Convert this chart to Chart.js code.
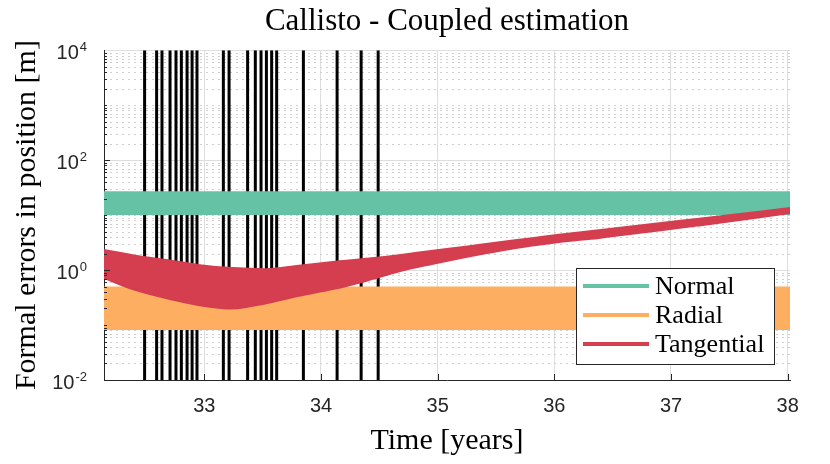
<!DOCTYPE html>
<html>
<head>
<meta charset="utf-8">
<script src="https://cdn.jsdelivr.net/npm/chart.js@4.4.1/dist/chart.umd.min.js"></script>
<style>
  html, body { margin: 0; padding: 0; background: #fff; }
  #wrap { width: 830px; height: 464px; }
</style>
</head>
<body>
<div id="wrap"><canvas id="grafico"></canvas></div>
<script>
// Valores
const seriesNames = ['Normal', 'Radial', 'Tangential'];

const flybyTimes = [32.488, 32.591, 32.637, 32.706, 32.757, 32.803, 32.852, 32.895, 32.937,
  33.163, 33.212, 33.371, 33.437, 33.486, 33.532, 33.577, 33.620, 33.849, 34.138, 34.344, 34.490];

const normalTime = [32.14, 38.02];
const normalUpper = [26, 26];
const normalLower = [10.5, 10.5];

const radialTime = [32.14, 38.02];
const radialUpper = [0.48, 0.48];
const radialLower = [0.085, 0.085];

const tangentialTime = [32.14, 32.385, 32.67, 32.96, 33.24, 33.53, 33.81, 34.10, 34.39, 34.67,
  34.96, 35.24, 35.53, 35.81, 36.04, 36.38, 37.24, 38.02];
const tangentialUpper = [2.31, 1.87, 1.52, 1.23, 1.09, 1.04, 1.2, 1.4, 1.6, 1.87,
  2.25, 2.65, 3.2, 3.8, 4.4, 5.3, 8.6, 13.4];
const tangentialLower = [0.72, 0.45, 0.31, 0.23, 0.2, 0.25, 0.34, 0.45, 0.64, 0.95,
  1.3, 1.72, 2.25, 2.8, 3.25, 3.85, 6.5, 10.9];

const xTickValues = [33, 34, 35, 36, 37, 38];
const yTickValues = [1e-2, 1e0, 1e2, 1e4];
const yTickExponents = ['-2', '0', '2', '4'];

const cores = ['#66c2a5', '#fdae61', '#d53e4f'];
const serif = 'Liberation Serif';
const sans = 'Liberation Sans';

function pontos(xs, ys) {
  return xs.map((x, i) => ({ x: x, y: ys[i] }));
}

function faixa(nome, xs, alto, baixo, cor, ordem) {
  return [
    { label: nome, data: pontos(xs, alto), borderColor: cor, backgroundColor: cor,
      borderWidth: 2, pointRadius: 0, fill: '+1', order: ordem, cubicInterpolationMode: 'monotone' },
    { label: nome + ' (min)', data: pontos(xs, baixo), borderColor: cor, backgroundColor: cor,
      borderWidth: 2, pointRadius: 0, fill: false, order: ordem, cubicInterpolationMode: 'monotone' }
  ];
}

// linhas verticais dos sobrevoos, num único dataset separado por nulls
const flybyData = [];
flybyTimes.forEach(t => {
  flybyData.push({ x: t, y: yTickValues[0] });
  flybyData.push({ x: t, y: yTickValues[yTickValues.length - 1] });
  flybyData.push({ x: t, y: null });
});

const datasets = [
  ...faixa(seriesNames[0], normalTime, normalUpper, normalLower, cores[0], 3),
  ...faixa(seriesNames[1], radialTime, radialUpper, radialLower, cores[1], 2),
  ...faixa(seriesNames[2], tangentialTime, tangentialUpper, tangentialLower, cores[2], 1),
  { label: 'flybys', data: flybyData, borderColor: '#000', borderWidth: 3, pointRadius: 0,
    fill: false, spanGaps: false, order: 4 }
];

// grade menor pontilhada, marcas internas, rótulos 10^n e legenda
const extras = {
  id: 'extras',
  beforeDatasetsDraw(chart) {
    const { ctx, chartArea: a } = chart;
    const y = chart.scales.y;
    ctx.save();
    ctx.strokeStyle = '#cfcfcf';
    ctx.lineWidth = 1;
    ctx.setLineDash([2, 4]);
    for (let e = -2; e < 4; e++) {
      for (let m = 1; m <= 9; m++) {
        if (m === 1 && e % 2 === 0) continue;
        const py = Math.round(y.getPixelForValue(m * Math.pow(10, e))) + 0.5;
        ctx.beginPath();
        ctx.moveTo(a.left, py);
        ctx.lineTo(a.right, py);
        ctx.stroke();
      }
    }
    ctx.restore();
  },
  afterDatasetsDraw(chart) {
    const { ctx, chartArea: a } = chart;
    const x = chart.scales.x;
    const y = chart.scales.y;
    ctx.save();
    ctx.strokeStyle = '#262626';
    ctx.lineWidth = 1;
    for (let e = -2; e < 4; e++) {
      for (let m = 1; m <= 9; m++) {
        const py = Math.round(y.getPixelForValue(m * Math.pow(10, e))) + 0.5;
        const len = (m === 1 && e % 2 === 0) ? 6 : 3;
        ctx.beginPath();
        ctx.moveTo(a.left, py);
        ctx.lineTo(a.left + len, py);
        ctx.stroke();
      }
    }
    xTickValues.forEach(v => {
      const px = Math.round(x.getPixelForValue(v)) + 0.5;
      ctx.beginPath();
      ctx.moveTo(px, a.bottom);
      ctx.lineTo(px, a.bottom - 6);
      ctx.stroke();
    });

    // legenda
    const bx = 576, by = 268, bw = 198, bh = 96;
    ctx.fillStyle = '#fff';
    ctx.fillRect(bx, by, bw, bh);
    ctx.strokeRect(bx + 0.5, by + 0.5, bw, bh);
    ctx.font = '26px "' + serif + '"';
    ctx.textBaseline = 'middle';
    ctx.textAlign = 'left';
    seriesNames.forEach((nome, i) => {
      const ly = by + 18 + i * 29;
      ctx.strokeStyle = cores[i];
      ctx.lineWidth = 4;
      ctx.beginPath();
      ctx.moveTo(583, ly);
      ctx.lineTo(649, ly);
      ctx.stroke();
      ctx.fillStyle = '#000';
      ctx.fillText(nome, 655, ly + 1);
    });
    ctx.restore();
  },
  afterDraw(chart) {
    const { ctx, chartArea: a } = chart;
    const y = chart.scales.y;
    ctx.save();
    ctx.fillStyle = '#262626';
    ctx.textBaseline = 'middle';
    ctx.textAlign = 'right';
    yTickValues.forEach((v, i) => {
      const py = y.getPixelForValue(v);
      const right = a.left - 17;
      ctx.font = '13px "' + sans + '"';
      const w = ctx.measureText(yTickExponents[i]).width;
      ctx.fillText(yTickExponents[i], right, py - 3);
      ctx.font = '20px "' + sans + '"';
      ctx.fillText('10', right - w - 1, py + 3);
    });
    ctx.restore();
  }
};

const ctx = document.getElementById('grafico').getContext('2d');
new Chart(ctx, {
  type: 'line',
  data: { datasets: datasets },
  plugins: [extras],
  options: {
    responsive: true,
    maintainAspectRatio: false,
    animation: false,
    layout: { padding: { left: 0, right: 40, top: 0, bottom: 0 } },
    plugins: {
      legend: { display: false },
      tooltip: { enabled: false },
      title: {
        display: true,
        text: 'Callisto - Coupled estimation',
        fullSize: false,
        color: '#000',
        font: { family: serif, size: 31, weight: 'normal' },
        padding: { top: 3, bottom: 10 }
      }
    },
    scales: {
      x: {
        type: 'linear',
        min: 32.14,
        max: 38.02,
        afterBuildTicks: (scale) => { scale.ticks = xTickValues.map(v => ({ value: v })); },
        afterFit: (scale) => { scale.height = 84; },
        ticks: {
          color: '#262626',
          padding: 14,
          maxRotation: 0,
          font: { family: sans, size: 20 },
          callback: (v) => v
        },
        grid: { color: '#dedede', drawTicks: false },
        border: { color: '#262626', width: 1 },
        title: {
          display: true,
          text: 'Time [years]',
          color: '#000',
          font: { family: serif, size: 30 },
          padding: { top: 0, bottom: 5 }
        }
      },
      y: {
        type: 'logarithmic',
        min: 1e-2,
        max: 1e4,
        afterBuildTicks: (scale) => { scale.ticks = yTickValues.map(v => ({ value: v })); },
        afterFit: (scale) => { scale.width = 104; },
        ticks: { display: false },
        grid: { color: '#dedede', drawTicks: false },
        border: { color: '#262626', width: 1 },
        title: {
          display: true,
          text: 'Formal errors in position [m]',
          color: '#000',
          font: { family: serif, size: 30 },
          padding: { top: 9, bottom: 0 }
        }
      }
    }
  }
});
</script>
</body>
</html>
